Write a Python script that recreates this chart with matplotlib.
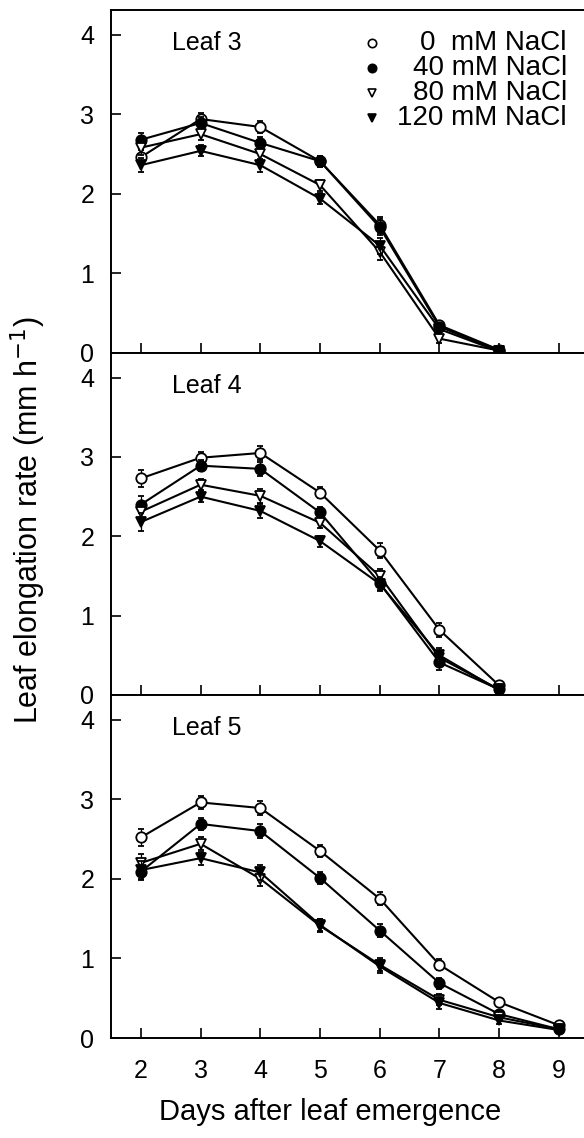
import numpy as np
import matplotlib
matplotlib.use("Agg")
import matplotlib.pyplot as plt

plt.rcParams['font.family'] = ['Liberation Sans', 'DejaVu Sans']

days = [2, 3, 4, 5, 6, 7, 8, 9]
treatments = ["0  mM NaCl", "40 mM NaCl", "80 mM NaCl", "120 mM NaCl"]
panel_names = ["Leaf 3", "Leaf 4", "Leaf 5"]

# leaf 3 (days 2-8)
leaf3_0 = [2.46, 2.94, 2.84, 2.41, 1.61, 0.35, 0.04]
leaf3_40 = [2.68, 2.89, 2.64, 2.41, 1.58, 0.33, 0.03]
leaf3_80 = [2.58, 2.75, 2.50, 2.11, 1.27, 0.18, 0.03]
leaf3_120 = [2.36, 2.54, 2.36, 1.94, 1.35, 0.30, 0.02]
leaf3_err = [0.09, 0.07, 0.08, 0.07, 0.10, 0.05, 0.02]

# leaf 4 (days 2-8)
leaf4_0 = [2.73, 2.99, 3.05, 2.55, 1.82, 0.82, 0.12]
leaf4_40 = [2.40, 2.89, 2.85, 2.30, 1.41, 0.41, 0.07]
leaf4_80 = [2.31, 2.65, 2.51, 2.17, 1.50, 0.47, 0.07]
leaf4_120 = [2.18, 2.50, 2.32, 1.94, 1.40, 0.50, 0.06]
leaf4_err = [0.11, 0.07, 0.09, 0.07, 0.09, 0.09, 0.02]

# leaf 5 (days 2-9)
leaf5_0 = [2.52, 2.96, 2.89, 2.35, 1.75, 0.92, 0.45, 0.16]
leaf5_40 = [2.09, 2.69, 2.60, 2.01, 1.35, 0.69, 0.30, 0.11]
leaf5_80 = [2.20, 2.44, 2.00, 1.41, 0.92, 0.48, 0.26, 0.11]
leaf5_120 = [2.11, 2.26, 2.08, 1.42, 0.90, 0.44, 0.22, 0.10]
leaf5_err = [0.11, 0.08, 0.09, 0.08, 0.08, 0.07, 0.04, 0.02]

panels = [
    ([leaf3_0, leaf3_40, leaf3_80, leaf3_120], leaf3_err),
    ([leaf4_0, leaf4_40, leaf4_80, leaf4_120], leaf4_err),
    ([leaf5_0, leaf5_40, leaf5_80, leaf5_120], leaf5_err),
]

styles = [
    dict(marker='o', mfc='white'),
    dict(marker='o', mfc='black'),
    dict(marker='v', mfc='white'),
    dict(marker='v', mfc='black'),
]

fig = plt.figure(figsize=(5.84, 11.38), dpi=100)
left, width = 111 / 584, 473 / 584
tops = [10, 353, 695]
bottoms = [353, 695, 1038]

axes = []
for i, (series, err) in enumerate(panels):
    b = 1 - bottoms[i] / 1138
    h = (bottoms[i] - tops[i]) / 1138
    ax = fig.add_axes([left, b, width, h])
    axes.append(ax)
    for j, vals in enumerate(series):
        x = days[:len(vals)]
        e = err[:len(vals)]
        ax.errorbar(x, vals, yerr=e, color='black', lw=1.5, capsize=2.5,
                    elinewidth=0.9, capthick=0.9, ms=7.5, mec='black', mew=1.3,
                    clip_on=False, zorder=3 + j, **styles[j])
    ax.set_xlim(1.5, 9.42)
    ax.set_ylim(0, 4.31)
    ax.set_yticks([0, 1, 2, 3, 4])
    ax.set_xticks(days)
    ax.tick_params(direction='in', length=7, width=1.2, labelsize=18)
    ax.tick_params(axis='y', pad=12)
    ax.tick_params(axis='x', pad=15)
    for s in ['left', 'bottom', 'top']:
        ax.spines[s].set_linewidth(1.4)
    ax.spines['right'].set_visible(False)
    if i < 2:
        ax.set_xticklabels([])
    ax.text(0.129, 0.904, panel_names[i], transform=ax.transAxes,
            fontsize=18, ha='left', va='center')

# legend drawn by hand in the first panel
ax0 = axes[0]
for j, lab in enumerate(treatments):
    yy = [0.904, 0.831, 0.758, 0.685][j]
    ax0.plot([0.552], [yy], transform=ax0.transAxes, ls='none', ms=6,
             mec='black', mew=1.2, clip_on=False, **styles[j])
    ax0.text(0.964, yy, lab, transform=ax0.transAxes, fontsize=20,
             ha='right', va='center')

fig.text(0.048, 1 - 520 / 1138, "Leaf elongation rate (mm h$^{-1}$)",
         rotation=90, ha='center', va='center', fontsize=22)
fig.text(0.565, 1 - 1112 / 1138, "Days after leaf emergence", ha='center',
         va='center', fontsize=21)

fig.savefig("out.png", dpi=100)
